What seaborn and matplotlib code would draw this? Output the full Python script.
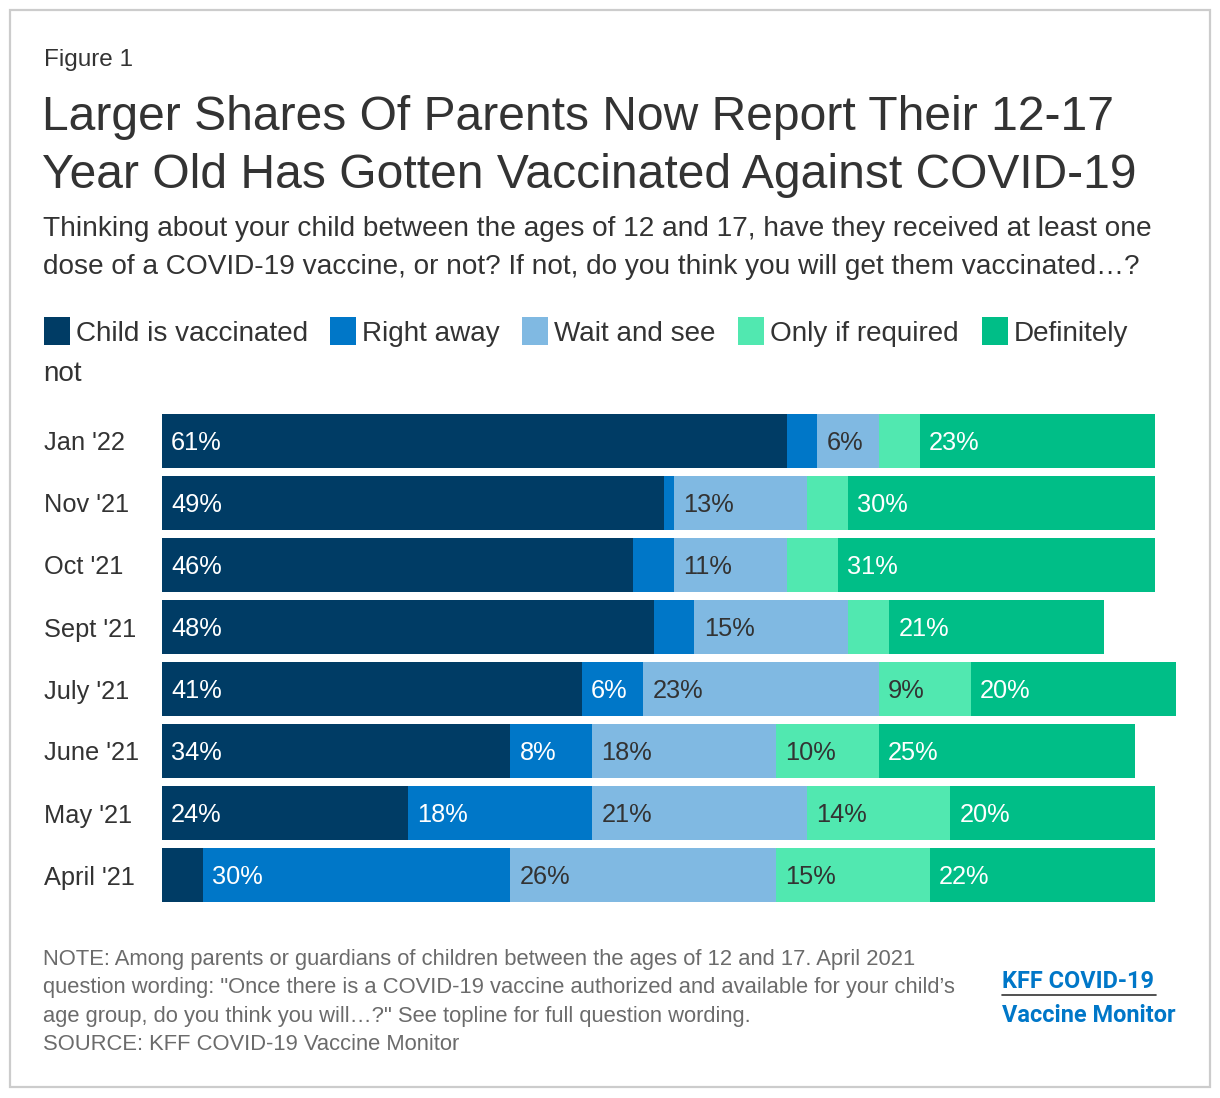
import matplotlib
matplotlib.use("Agg")
import matplotlib.pyplot as plt
from matplotlib.patches import Rectangle
from matplotlib.lines import Line2D
import seaborn as sns
import pandas as pd
import numpy as np

# ---- data ----
dates = ["Jan '22", "Nov '21", "Oct '21", "Sept '21", "July '21", "June '21", "May '21", "April '21"]
vaccinated = [61, 49, 46, 48, 41, 34, 24, 4]
right_away = [3, 1, 4, 4, 6, 8, 18, 30]
wait_see = [6, 13, 11, 15, 23, 18, 21, 26]
only_required = [4, 4, 5, 4, 9, 10, 14, 15]
definitely_not = [23, 30, 31, 21, 20, 25, 20, 22]

series_names = ["Child is vaccinated", "Right away", "Wait and see", "Only if required", "Definitely not"]
series_vals = [vaccinated, right_away, wait_see, only_required, definitely_not]
colors = ["#003c65", "#0077c8", "#80b9e2", "#51e8b0", "#00be87"]
label_colors = ["white", "white", "#333333", "#333333", "white"]

W, H = 1220, 1098
def fx(px): return px / W
def fy(py): return 1 - py / H

sns.set_theme(style="white")
plt.rcParams["font.family"] = ["Liberation Sans", "DejaVu Sans"]

fig = plt.figure(figsize=(W / 100, H / 100), dpi=100)
fig.patch.set_facecolor("white")

# frame
fig.patches.append(Rectangle((fx(10), fy(1087)), fx(1200), (1077) / H, transform=fig.transFigure,
                             fill=False, edgecolor="#cccccc", linewidth=1.6))

ax = fig.add_axes([fx(162), fy(906), 1024 / W, 496 / H])

df = pd.DataFrame({"date": dates})
cum = np.zeros(len(dates))
starts = []
for name, vals in zip(series_names, series_vals):
    starts.append(cum.copy())
    cum = cum + np.array(vals)
    df[name + "_cum"] = cum

# draw cumulative bars from the longest to the shortest (stacked look)
for name, col in reversed(list(zip(series_names, colors))):
    sns.barplot(data=df, x=name + "_cum", y="date", order=dates, color=col, saturation=1,
                width=54 / 62, orient="h", ax=ax, linewidth=0, errorbar=None)

# segment labels
for si, (vals, st) in enumerate(zip(series_vals, starts)):
    for i, v in enumerate(vals):
        if v >= 6:
            ax.text(st[i] + 0.9, i, f"{v}%", ha="left", va="center_baseline", color=label_colors[si],
                    fontsize=18.3)

ax.set_xlim(0, 100)
ax.set_ylim(7.5, -0.5)
ax.set_xlabel("")
ax.set_ylabel("")
ax.set_xticks([])
for s in ax.spines.values():
    s.set_visible(False)
ax.tick_params(axis="y", length=0, pad=118 * 0.72, labelsize=18.3, labelcolor="#333333")
for lbl in ax.get_yticklabels():
    lbl.set_ha("left")

# ---- header text ----
txt = "#333333"
fig.text(fx(44), fy(66), "Figure 1", fontsize=17.5, color=txt, va="baseline")
fig.text(fx(42), fy(130), "Larger Shares Of Parents Now Report Their 12-17", fontsize=34.55, color=txt, va="baseline")
fig.text(fx(42), fy(188), "Year Old Has Gotten Vaccinated Against COVID-19", fontsize=34.55, color=txt, va="baseline")
fig.text(fx(43), fy(236), "Thinking about your child between the ages of 12 and 17, have they received at least one",
         fontsize=20.15, color=txt, va="baseline")
fig.text(fx(43), fy(274), "dose of a COVID-19 vaccine, or not? If not, do you think you will get them vaccinated\u2026?",
         fontsize=20.15, color=txt, va="baseline")

# ---- legend ----
sq_x = [44, 330, 522, 738, 982]
leg_labels = ["Child is vaccinated", "Right away", "Wait and see", "Only if required", "Definitely"]
for x0, lab, col in zip(sq_x, leg_labels, colors):
    fig.patches.append(Rectangle((fx(x0), fy(345)), 26 / W, 28 / H, transform=fig.transFigure,
                                 facecolor=col, edgecolor="none"))
    fig.text(fx(x0 + 32), fy(341), lab, fontsize=20.1, color=txt, va="baseline")
fig.text(fx(43), fy(381), "not", fontsize=20.1, color=txt, va="baseline")

# ---- notes ----
note = "#6b6b6b"
notes = [
    "NOTE: Among parents or guardians of children between the ages of 12 and 17. April 2021",
    "question wording: \"Once there is a COVID-19 vaccine authorized and available for your child\u2019s",
    "age group, do you think you will\u2026?\" See topline for full question wording.",
    "SOURCE: KFF COVID-19 Vaccine Monitor",
]
for k, line in enumerate(notes):
    fig.text(fx(43), fy(965 + k * 28.3), line, fontsize=15.8, color=note, va="baseline")

# ---- logo ----
blue = "#0077c8"
fig.text(fx(1002), fy(988), "KFF COVID-19", fontsize=16.9, color=blue, fontweight="bold",
         family=["Roboto", "DejaVu Sans"], va="baseline")
fig.add_artist(Line2D([fx(1002), fx(1156)], [fy(995), fy(995)], transform=fig.transFigure,
                      color="#333333", linewidth=1.2))
fig.text(fx(1002), fy(1022), "Vaccine Monitor", fontsize=16.9, color=blue, fontweight="bold",
         family=["Roboto", "DejaVu Sans"], va="baseline")

fig.savefig("out.png", dpi=100, facecolor="white")
